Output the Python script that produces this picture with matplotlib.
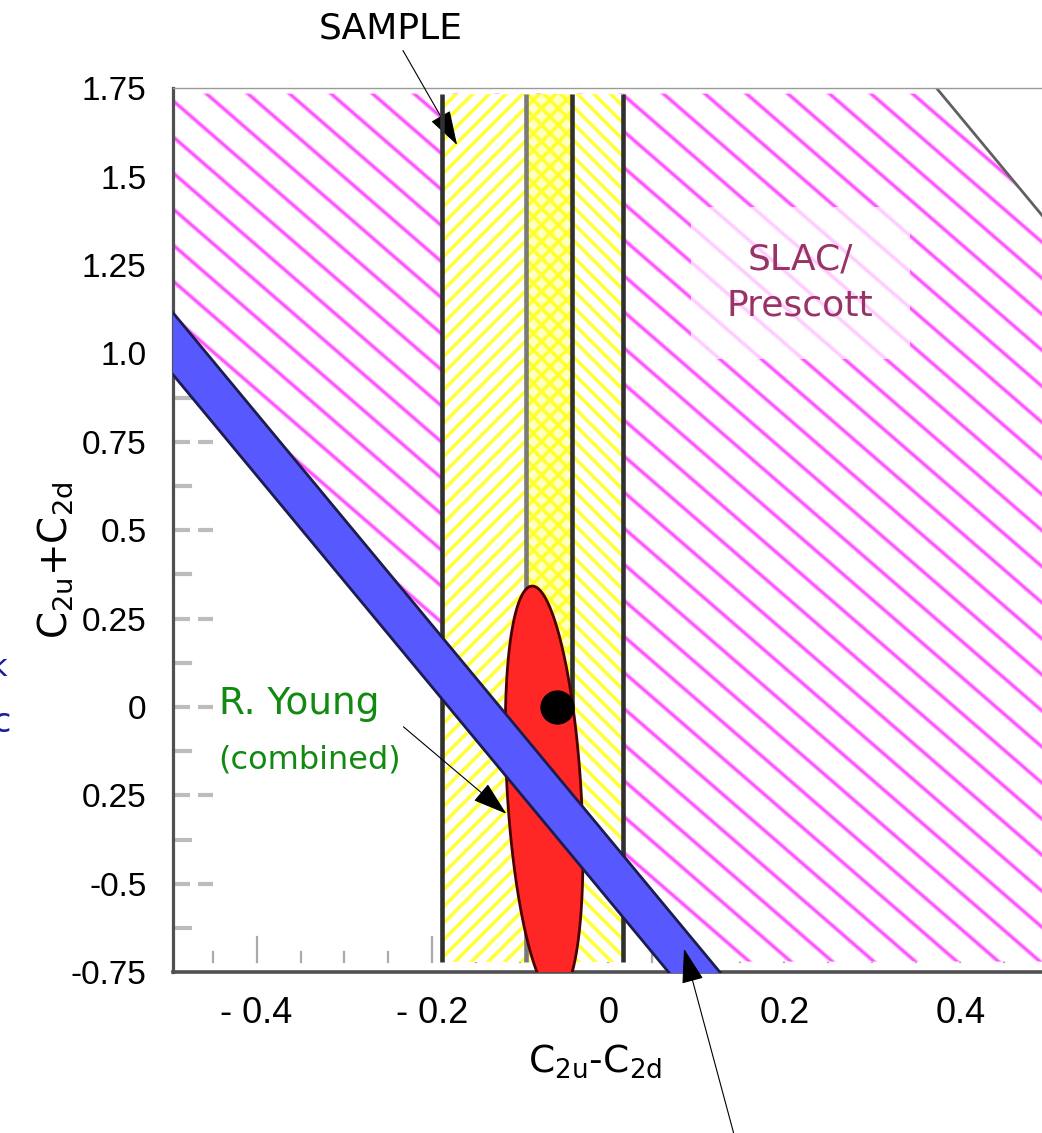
import numpy as np
import matplotlib.pyplot as plt
from matplotlib.path import Path
from matplotlib.patches import PathPatch
from matplotlib.transforms import Bbox
from matplotlib.collections import LineCollection

# tick values / labels (label at -0.25 is printed without the minus in the original)
x_ticks = [-0.4, -0.2, 0.0, 0.2, 0.4]
x_labels = ['- 0.4', '- 0.2', '0', '0.2', '0.4']
y_ticks = [1.75, 1.5, 1.25, 1.0, 0.75, 0.5, 0.25, 0.0, -0.25, -0.5, -0.75]
y_labels = ['1.75', '1.5', '1.25', '1.0', '0.75', '0.5', '0.25', '0', '0.25', '-0.5', '-0.75']

# SAMPLE band (outer edges and inner core) in C2u-C2d
sample_edges = [-0.189, 0.017]
sample_core = [-0.094, -0.041]

# diagonal bands: y = intercept + slope * x
band_slope = -3.0
blue_band = [-0.545, -0.37]       # lower, upper intercept
prescott_band = [-0.45, 2.87]     # SLAC/Prescott hatched region

# R. Young combined fit
ell_center = (-0.073, -0.239)
ell_half_x = 0.042
ell_half_y = 0.581
ell_shear = 0.0135
best_fit = (-0.058, 0.0)

plt.rcParams['font.family'] = 'DejaVu Sans'
plt.rcParams['lines.scale_dashes'] = False
plt.rcParams['hatch.linewidth'] = 2.6

fig = plt.figure(figsize=(10.42, 11.33), dpi=100)
ax = fig.add_axes([0.166, 0.142, 0.834, 0.780])
xmin, xmax = -0.495, 0.493
ymin, ymax = -0.75, 1.75
y_lo, y_hi = -0.72, 1.735          # filled area stops just inside the frame
f_lo = (y_lo - ymin) / (ymax - ymin)
f_hi = (y_hi - ymin) / (ymax - ymin)

# --- SLAC/Prescott hatched region
xs = np.array([-1.0, 1.0])
lo = prescott_band[0] + band_slope * xs
hi = prescott_band[1] + band_slope * xs
poly = Path([(xs[0], lo[0]), (xs[1], lo[1]), (xs[1], hi[1]), (xs[0], hi[0]), (xs[0], lo[0])], closed=True)
poly = poly.clip_to_bbox(Bbox([[xmin, y_lo], [xmax, y_hi]]))
prescott = PathPatch(poly, fc='white', ec='none', zorder=1)
ax.add_patch(prescott)

h_slope = -2.16
h_step = 0.102
hx = np.array([-0.6, 0.6])
segs = [[(hx[0], b + h_slope * hx[0]), (hx[1], b + h_slope * hx[1])]
        for b in 0.748 + h_step * np.arange(-32, 33)]
for lw, col in [(3.6, '#ffbfff'), (1.9, '#ff55ff')]:
    lc = LineCollection(segs, colors=col, linewidths=lw, zorder=2)
    lc.set_clip_path(prescott)
    ax.add_collection(lc, autolim=False)
ax.plot(hx, prescott_band[1] + band_slope * hx, color='#606060', lw=2.0, zorder=2)

# --- SAMPLE band
ax.axvspan(sample_edges[0], sample_core[0], f_lo, f_hi, fc='white', ec='#ffff3a', hatch='//', lw=0, zorder=3)
ax.axvspan(sample_core[1], sample_edges[1], f_lo, f_hi, fc='white', ec='#ffff3a', hatch='\\\\', lw=0, zorder=3)
ax.axvspan(sample_core[0], sample_core[1], f_lo, f_hi, fc='#ffffc0', ec='#ffff30', hatch='xx', lw=0, zorder=3)
ax.vlines(sample_edges + sample_core, y_lo, y_hi,
          colors=['#303030', '#303030', '#7a7a7a', '#303030'], lw=3.3, zorder=3.5)

# --- R. Young ellipse and best fit point
t = np.linspace(0, 2 * np.pi, 300)
ex = ell_center[0] + ell_half_x * np.cos(t) - ell_shear * np.sin(t)
ey = ell_center[1] + ell_half_y * np.sin(t)
ax.fill(ex, ey, fc='#ff2626', ec='#4a0000', lw=2, zorder=4)

# --- blue band
bx = np.array([-0.6, 0.3])
ax.fill_between(bx, blue_band[0] + band_slope * bx, blue_band[1] + band_slope * bx,
                fc='#5858ff', ec='#1c1c50', lw=2, zorder=5)

ax.scatter(*best_fit, s=560, c='black', zorder=6)

# --- gray inner tick marks (hidden where the regions cover them)
ytr = ax.get_yaxis_transform()
for y in np.arange(-0.625, 1.75, 0.125):
    if abs(y / 0.25 - round(y / 0.25)) < 1e-6:
        ax.plot([0.0025, 0.046], [y, y], transform=ytr, color='#bcbcbc', lw=3,
                dashes=(10.8, 5.8), zorder=0.5, solid_capstyle='butt')
    else:
        ax.plot([0.0025, 0.02], [y, y], transform=ytr, color='#bcbcbc', lw=3, zorder=0.5)
for x in np.arange(-0.45, 0.46, 0.05):
    top = y_lo + (0.07 if abs(x / 0.2 - round(x / 0.2)) < 1e-6 else 0.026)
    ax.plot([x, x], [y_lo, top], color='#aaaaaa', lw=1.6, zorder=0.5)

ax.set_xlim(xmin, xmax)
ax.set_ylim(ymin, ymax)
ax.set_xticks(x_ticks, x_labels, fontsize=26, family='Liberation Sans')
ax.set_yticks(y_ticks, y_labels, fontsize=24, family='Liberation Sans')
ax.tick_params(axis='both', length=0)
ax.tick_params(axis='x', pad=17)
ax.tick_params(axis='y', pad=19)

for side, col, lw in [('left', '#505050', 2.3), ('bottom', '#505050', 2.6), ('top', '#9a9a9a', 1.0)]:
    ax.spines[side].set_color(col)
    ax.spines[side].set_linewidth(lw)
ax.spines['right'].set_visible(False)

ax.set_xlabel(r'C$_{\mathregular{2u}}$-C$_{\mathregular{2d}}$', fontsize=27)
ax.xaxis.set_label_coords(0.486, -0.08)
ax.set_ylabel(r'C$_{\mathregular{2u}}$+C$_{\mathregular{2d}}$', fontsize=28)
ax.yaxis.set_label_coords(-0.113, 0.466)

# --- labels and arrows
head = '-|>,head_length=1.1,head_width=0.35'
ax.annotate('SAMPLE', xy=(-0.172, 1.590), xytext=(-0.248, 1.92), ha='center', va='center',
            fontsize=26, annotation_clip=False,
            arrowprops=dict(arrowstyle=head, mutation_scale=20, color='black', lw=0.8, shrinkB=0))
ax.text(0.218, 1.20, 'SLAC/\nPrescott', ha='center', va='center', fontsize=26, color='#993366',
        linespacing=1.45, zorder=7,
        bbox=dict(boxstyle='square,pad=1.0', fc='white', ec='none', alpha=0.7))
ax.text(-0.443, -0.02, 'R. Young', fontsize=27, color='#128a12', va='baseline', zorder=7)
ax.text(-0.443, -0.175, '(combined)', fontsize=23, color='#128a12', va='baseline', zorder=7)
ax.annotate('', xy=(-0.116, -0.302), xytext=(-0.233, -0.056),
            arrowprops=dict(arrowstyle=head, mutation_scale=20, color='black', lw=0.8,
                            shrinkA=0, shrinkB=0), zorder=7)
ax.annotate('', xy=(0.086, -0.684), xytext=(0.144, -1.22), annotation_clip=False,
            arrowprops=dict(arrowstyle=head, mutation_scale=20, color='black', lw=0.8,
                            shrinkA=0, shrinkB=0), zorder=7)

# cut-off letters of the neighbouring panel (cut at the left edge, as in the original)
fig.text(0.007, 1 - 667 / 1133, 'k', color='#1a1a9c', fontsize=22, ha='right', va='center')
fig.text(0.010, 1 - 723 / 1133, 'c', color='#1a1a9c', fontsize=24, ha='right', va='center')

fig.savefig('out.png', dpi=100)
